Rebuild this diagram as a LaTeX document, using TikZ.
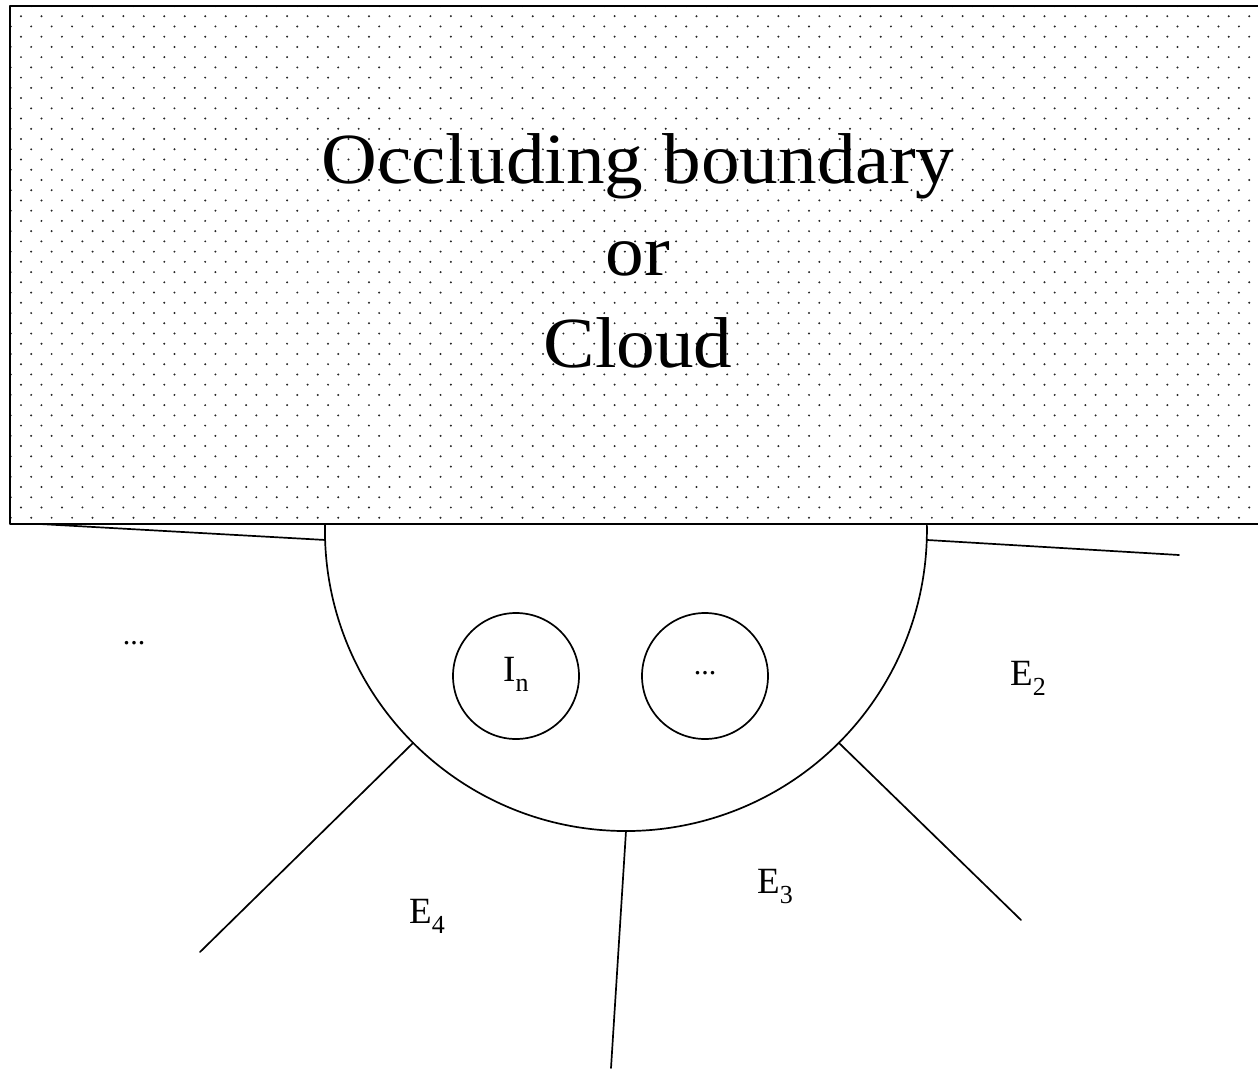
\documentclass[tikz,border=0pt]{standalone}
\usepackage{fontspec}
\setmainfont{Liberation Serif}
\newcommand\lowsub[1]{\raisebox{-10.5pt}{\fontsize{26}{26}\selectfont #1}}
\tikzset{
  lbl/.style={anchor=base west,inner sep=0pt,font=\fontsize{37}{40}\selectfont},
  ring/.style={draw,circle,line width=1.7pt,minimum size=126pt,inner sep=0pt}
}
\begin{document}
\begin{tikzpicture}[x=1pt,y=-1pt,line cap=round,line join=round]
  \useasboundingbox (0,0) rectangle (1258,1073);
  % dotted block on top
  \begin{scope}
    \clip (10,6) rectangle (1262,524);
    \foreach \j in {0,...,25} {
      \foreach \k in {0,...,61} {
        \fill[black!85] (10.7+20.47*\k,6+20.47*\j) circle (1.1pt);
        \fill[black!85] (21+20.47*\k,16.2+20.47*\j) circle (1.1pt);
      }
    }
  \end{scope}
  \draw[line width=1.9pt] (10,6) rectangle (1262,524);
  \node[align=center,inner sep=0pt,xscale=1.073,transform shape,
    font=\fontsize{72}{92}\selectfont] (occ) at (638,251)
    {Occluding boundary\\or\\Cloud};
  % half disc under the block
  \coordinate (c) at (626,530);
  \draw[line width=1.7pt] (325,524) arc[start angle=181.15,end angle=-1.15,radius=301];
  \coordinate (al) at ([shift={(178.1:301)}]c);
  \coordinate (ar) at ([shift={(1.9:301)}]c);
  \coordinate (a4) at ([shift={(135:301)}]c);
  \coordinate (ab) at ([shift={(90:301)}]c);
  \coordinate (a3) at ([shift={(45:301)}]c);
  \coordinate (el) at (40,524);
  \coordinate (er) at (1179,555);
  \coordinate (e4) at (200,952);
  \coordinate (eb) at (611,1068);
  \coordinate (e3) at (1021,920);
  \draw[line width=1.7pt] (el) -- (al);
  \draw[line width=1.7pt] (ar) -- (er);
  \draw[line width=1.7pt] (a4) -- (e4);
  \draw[line width=1.7pt] (ab) -- (eb);
  \draw[line width=1.7pt] (a3) -- (e3);
  \node[ring] (ring1) at (516,676) {};
  \node[ring] (ring2) at (705,676) {};
  \node[lbl] (lin) at (503,681) {I\lowsub{n}};
  \node[anchor=base,inner sep=0pt,font=\fontsize{30}{32}\selectfont] (dotsin) at (705,674) {...};
  \node[anchor=base,inner sep=0pt,font=\fontsize{30}{32}\selectfont] (dotsl) at (134,644) {...};
  \node[lbl] (lE2) at (1010,685) {E\lowsub{2}};
  \node[lbl] (lE3) at (757,893) {E\lowsub{3}};
  \node[lbl] (lE4) at (409,923) {E\lowsub{4}};
\end{tikzpicture}
\end{document}
